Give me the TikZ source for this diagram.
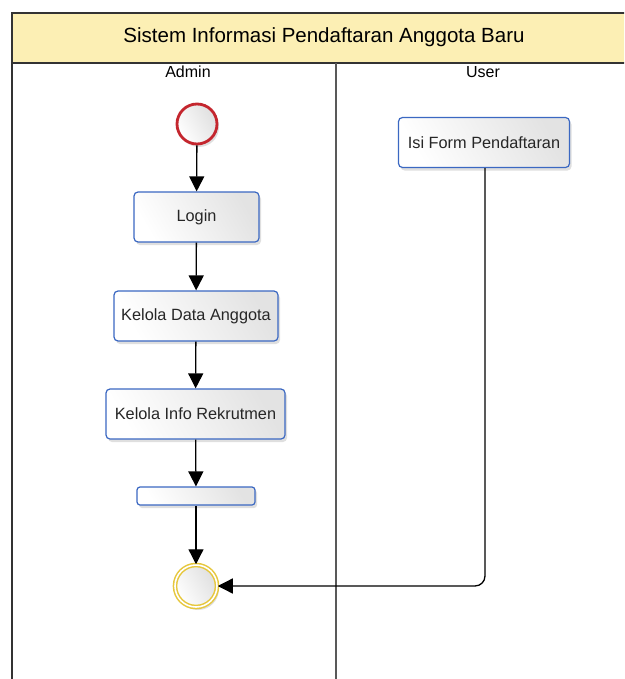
\documentclass[tikz,border=0pt]{standalone}
\usepackage{fontspec}
\setmainfont{Liberation Sans}
\usetikzlibrary{shadows,arrows.meta,positioning}
\definecolor{bandyellow}{HTML}{FCEFB4}
\definecolor{boxblue}{HTML}{3B68C2}
\definecolor{startred}{HTML}{C4262E}
\definecolor{endyellow}{HTML}{E6C73C}
\definecolor{frameline}{HTML}{333333}
\tikzset{
  actbox/.style={draw=boxblue, line width=1.2pt, rounded corners=4pt,
    left color=white, right color=gray!22, shading angle=120,
    drop shadow={shadow xshift=2pt, shadow yshift=-3pt, opacity=0.25},
    font=\fontsize{16.3}{19}\selectfont, text=black!85, inner sep=0pt, minimum height=50pt},
  startnode/.style={circle, draw=startred, line width=2.8pt, minimum size=40pt,
    left color=white, right color=gray!25, shading angle=120,
    drop shadow={shadow xshift=2pt, shadow yshift=-3pt, opacity=0.25}},
  endnode/.style={circle, draw=endyellow, line width=1.5pt, minimum size=42pt,
    double=white, double distance=1.6pt,
    left color=white, right color=gray!25, shading angle=120,
    drop shadow={shadow xshift=2pt, shadow yshift=-3pt, opacity=0.25}},
  flow/.style={line width=1.3pt, black, -{Triangle[length=15pt,width=15pt]}},
  lanelabel/.style={font=\fontsize{16}{19}\selectfont},
}
\begin{document}
\begin{tikzpicture}[x=1pt,y=-1pt]
\clip (0,0) rectangle (624,679);
\fill[white] (0,0) rectangle (624,679);
% pool frame
\fill[bandyellow] (12,13) rectangle (640,63);
\draw[frameline, line width=1.3pt] (640,13) -- (12,13) -- (12,700);
\draw[frameline, line width=1.3pt] (12,63) -- (640,63);
\draw[black!65, line width=2pt] (336,63) -- (336,700);
\node (title) at (324,37) {\fontsize{20.5}{24}\selectfont Sistem Informasi Pendaftaran Anggota Baru};
\node[lanelabel] (admin) at (188,72) {Admin};
\node[lanelabel] (user) at (483,72) {User};
% nodes
\node[startnode] (start) at (197,124) {};
\node[actbox, minimum width=125pt] (login) at (196.5,217) {Login};
\node[actbox, minimum width=164pt] (kda) at (196,316) {Kelola Data Anggota};
\node[actbox, minimum width=179pt] (kir) at (195.5,414) {Kelola Info Rekrutmen};
\node[actbox, minimum width=118pt, minimum height=18pt, rounded corners=3pt] (bar) at (196,496) {};
\node[endnode] (end) at (196,586) {};
\node[actbox, minimum width=171pt] (form) at (484,142.5) {Isi Form Pendaftaran};
% connectors
\draw[flow] (start) -- (login);
\draw[flow] (login) -- (kda);
\draw[flow] (kda) -- (kir);
\draw[flow] (kir) -- (bar);
\draw[flow] (bar) -- (end);
\draw[flow, rounded corners=10pt] (form.south -| 485,0) -- (485,586) -- (end.east);
\end{tikzpicture}
\end{document}
